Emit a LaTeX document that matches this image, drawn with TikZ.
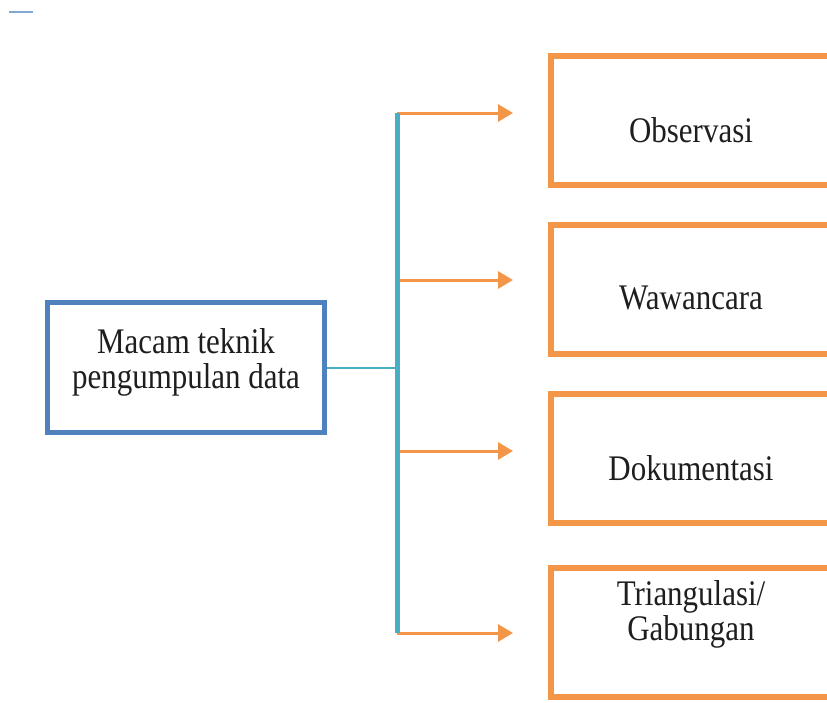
\documentclass[tikz,border=0pt]{standalone}
\usepackage{fontspec}
\setmainfont{Liberation Serif}[FakeStretch=0.86]
\usetikzlibrary{arrows.meta,positioning,calc}
\definecolor{boxblue}{HTML}{4F81BD}
\definecolor{spinecyan}{HTML}{4BACC6}
\definecolor{techorange}{HTML}{F39648}
\definecolor{textdark}{HTML}{1E1E1E}

\begin{document}
\begin{tikzpicture}[x=1pt, y=-1pt,
  every node/.style={font=\fontsize{36}{35}\selectfont, text=textdark},
  mainbox/.style={rectangle, draw=boxblue, line width=5pt, minimum width=277pt, minimum height=130pt, inner sep=0pt},
  techbox/.style={rectangle, draw=techorange, line width=6pt, minimum width=290pt, minimum height=129pt, inner sep=0pt},
  techlab/.style={align=center, inner sep=0pt},
  branch/.style={draw=techorange, line width=3pt, -{Triangle[length=15pt,width=17pt]}},
]
\useasboundingbox (0,0) rectangle (827,702);
\clip (0,0) rectangle (827,702);

% stray mark in the corner
\draw[boxblue!70, line width=2pt] (9,11.5) -- (33,11.5);

% --- Main box ---
\node[mainbox] (main) at (186,367.5) {};
\node[techlab] (mainlab) at ([yshift=5pt]main.center) {Macam teknik\\pengumpulan data};

% --- Technique boxes ---
\node[techbox] (obs) at (696,120) {};
\node[techbox] (waw) at (696,289) {};
\node[techbox] (dok) at (696,458.5) {};
\node[techbox] (tri) at (696,632) {};

\node[techlab] (obslab) at ([xshift=-5pt,yshift=-10pt]obs.center) {Observasi};
\node[techlab] (wawlab) at ([xshift=-5pt,yshift=-9pt]waw.center) {Wawancara};
\node[techlab] (doklab) at ([xshift=-5pt,yshift=-10pt]dok.center) {Dokumentasi};
\node[techlab] (trilab) at ([xshift=-5pt,yshift=18pt]tri.center) {Triangulasi/\\Gabungan};

% --- Spine and branches ---
\coordinate (stop) at (397,113);
\coordinate (sbot) at (397,633);
\coordinate (smid) at (397,367.5);
\draw[spinecyan, line width=2pt] (main.east) -- (smid);

\foreach \y/\name in {113/obs, 280/waw, 451/dok, 633/tri} {
  \coordinate (s-\name) at (397,\y);
  \coordinate (t-\name) at (513,\y);
  \draw[branch] (s-\name) -- (t-\name);
}
\draw[spinecyan, line width=5pt] (stop) -- (sbot);

\end{tikzpicture}
\end{document}
